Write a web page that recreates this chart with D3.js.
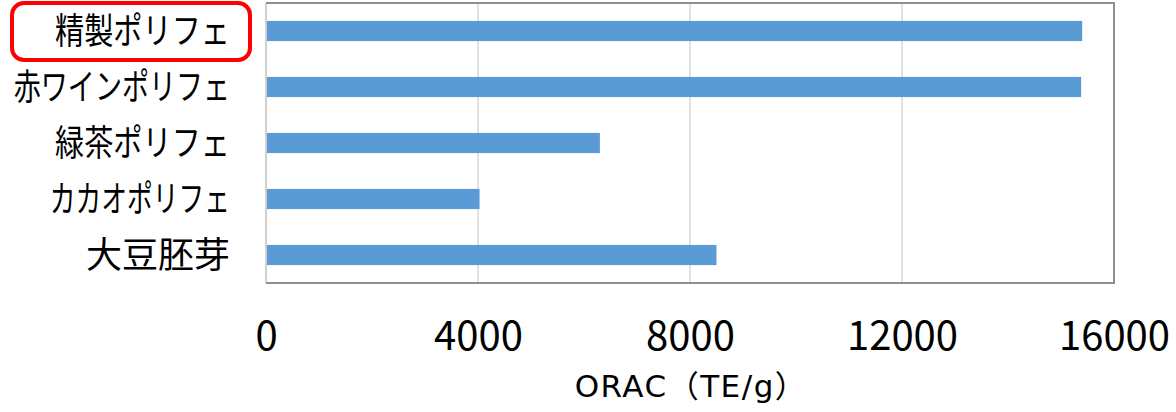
<!DOCTYPE html>
<html><head><meta charset="utf-8">
<script src="https://cdn.jsdelivr.net/npm/d3@7"></script>
<style>
html,body{margin:0;padding:0;background:#fff;}
svg{display:block;}
</style></head>
<body>
<script>
// ORAC values by ingredient
const categories = ["精製ポリフェ", "赤ワインポリフェ", "緑茶ポリフェ", "カカオポリフェ", "大豆胚芽"];
const values = [15400, 15380, 6300, 4030, 8500];
const xTicks = [0, 4000, 8000, 12000, 16000];
const xTitle = "ORAC（TE/g）";
const highlighted = "精製ポリフェ";

const W = 1176, H = 412;
const plot = {left: 266, right: 1114, top: 3, bottom: 283};
const cjkFont = "'Noto Sans CJK JP', sans-serif";
const titleFont = "'DejaVu Sans', 'Noto Sans CJK JP', sans-serif";
const labelSize = 36;
const kanaScale = 0.715; // kana set narrower than kanji, UI-font style

const svg = d3.select("body").append("svg").attr("width", W).attr("height", H);

const x = d3.scaleLinear().domain([0, 16000]).range([plot.left, plot.right]);
const y = d3.scaleBand().domain(categories).range([plot.top, plot.bottom]).paddingInner(0.64).paddingOuter(0.32);

// vertical gridlines
svg.append("g").selectAll("line").data(xTicks.slice(1, -1)).join("line")
  .attr("x1", d => x(d)).attr("x2", d => x(d))
  .attr("y1", plot.top).attr("y2", plot.bottom)
  .attr("stroke", "#d9d9d9").attr("stroke-width", 1.5);

// bars
svg.append("g").selectAll("rect").data(categories).join("rect")
  .attr("x", x(0)).attr("y", d => y(d))
  .attr("width", (d, i) => x(values[i]) - x(0))
  .attr("height", y.bandwidth())
  .attr("fill", "#5b9bd5");

// plot frame: light left edge, darker top/right/bottom
const frame = svg.append("g").attr("fill", "none");
frame.append("line").attr("x1", plot.left).attr("x2", plot.left)
  .attr("y1", plot.top).attr("y2", plot.bottom)
  .attr("stroke", "#d0d0d0").attr("stroke-width", 2);
frame.append("path")
  .attr("d", `M${plot.left},${plot.top}H${plot.right}V${plot.bottom}H${plot.left}`)
  .attr("stroke", "#8f8f8f").attr("stroke-width", 2);

// x axis tick labels
const xAxis = d3.axisBottom(x).tickValues(xTicks).tickSize(0).tickPadding(0).tickFormat(d3.format("d"));
const gx = svg.append("g").attr("transform", `translate(0,${plot.bottom})`).call(xAxis);
gx.select(".domain").remove();
gx.selectAll("text").attr("dy", null).attr("y", 67)
  .attr("font-family", cjkFont).attr("font-size", 40).attr("fill", "#000");

// category labels: kanji at full width, katakana condensed
const isKana = ch => /[\u30A0-\u30FF]/.test(ch);
const labelWidth = s => Array.from(s).reduce((w, ch) => w + (isKana(ch) ? kanaScale : 1) * labelSize, 0);
const yAxis = d3.axisLeft(y).tickSize(0).tickPadding(0);
const gy = svg.append("g").attr("transform", `translate(${plot.left - 36},0)`).call(yAxis);
gy.select(".domain").remove();
gy.selectAll("text").attr("font-family", cjkFont).attr("font-size", labelSize).attr("fill", "#000")
  .attr("dy", "0.36em")
  .attr("textLength", d => labelWidth(d))
  .attr("lengthAdjust", "spacingAndGlyphs");

// highlight box around the first category label
const hy = y(highlighted) + y.bandwidth() / 2;
svg.append("rect")
  .attr("x", 12).attr("y", hy - 28).attr("width", 238).attr("height", 57)
  .attr("rx", 12).attr("fill", "none").attr("stroke", "#ff0000").attr("stroke-width", 4);

// axis title
svg.append("text").attr("x", (plot.left + plot.right) / 2 + 1).attr("y", 397)
  .attr("text-anchor", "middle").attr("font-family", titleFont).attr("font-size", 31)
  .attr("letter-spacing", 1.5)
  .attr("fill", "#000").text(xTitle);
</script>
</body></html>
